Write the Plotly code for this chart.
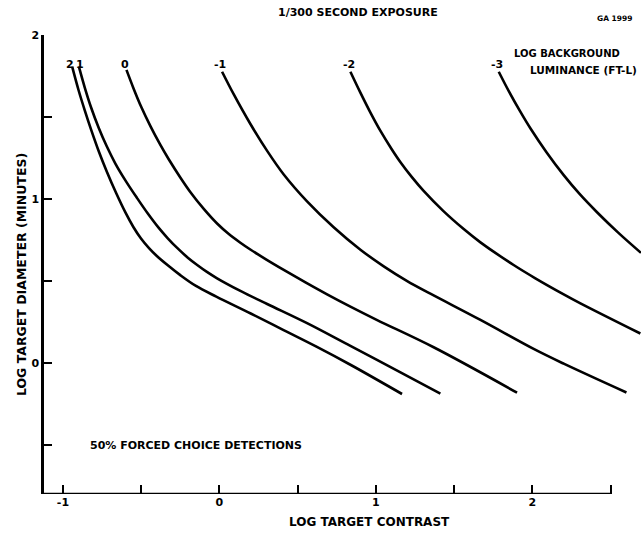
import plotly.graph_objects as go

# Curve labels (log background luminance, ft-L)
curve_labels = ["2", "1", "0", "-1", "-2", "-3"]
label_x = [-0.958, -0.893, -0.601, 0.006, 0.831, 1.774]
label_y = 1.823

# Curves: log target contrast (x) vs log target diameter (y)
c2_x = [-0.941, -0.900, -0.860, -0.820, -0.770, -0.720, -0.660, -0.600, -0.550, -0.500, -0.450, -0.400, -0.330, -0.250, -0.150, -0.020, 0.200, 0.410, 0.620, 0.840, 1.167]
c2_y = [1.807, 1.663, 1.539, 1.423, 1.288, 1.168, 1.036, 0.916, 0.829, 0.757, 0.700, 0.652, 0.595, 0.535, 0.469, 0.404, 0.301, 0.200, 0.099, -0.013, -0.190]

c1_x = [-0.898, -0.860, -0.820, -0.771, -0.720, -0.665, -0.600, -0.526, -0.460, -0.385, -0.330, -0.270, -0.200, -0.142, -0.080, -0.015, 0.134, 0.305, 0.560, 0.837, 1.130, 1.412]
c1_y = [1.807, 1.678, 1.558, 1.433, 1.321, 1.216, 1.112, 1.005, 0.914, 0.820, 0.760, 0.701, 0.640, 0.597, 0.555, 0.516, 0.439, 0.359, 0.242, 0.103, -0.044, -0.188]

c0_x = [-0.594, -0.550, -0.500, -0.441, -0.380, -0.324, -0.250, -0.185, -0.100, -0.015, 0.060, 0.134, 0.200, 0.300, 0.411, 0.550, 0.688, 0.837, 1.008, 1.369, 1.902]
c0_y = [1.787, 1.677, 1.562, 1.444, 1.334, 1.242, 1.131, 1.041, 0.939, 0.850, 0.786, 0.733, 0.690, 0.630, 0.567, 0.491, 0.418, 0.343, 0.261, 0.095, -0.182]

cm1_x = [0.017, 0.091, 0.198, 0.305, 0.411, 0.560, 0.730, 0.901, 1.050, 1.200, 1.348, 1.668, 2.008, 2.200, 2.601]
cm1_y = [1.776, 1.639, 1.457, 1.293, 1.149, 0.985, 0.827, 0.690, 0.589, 0.499, 0.422, 0.262, 0.085, -0.005, -0.181]

cm2_x = [0.837, 0.900, 0.960, 1.029, 1.100, 1.157, 1.230, 1.305, 1.430, 1.561, 1.668, 1.880, 2.019, 2.200, 2.307, 2.690]
cm2_y = [1.776, 1.650, 1.536, 1.415, 1.305, 1.224, 1.133, 1.049, 0.927, 0.816, 0.735, 0.597, 0.516, 0.418, 0.363, 0.179]

cm3_x = [1.785, 1.850, 1.920, 1.987, 2.090, 2.200, 2.300, 2.413, 2.550, 2.694]
cm3_y = [1.776, 1.656, 1.537, 1.431, 1.285, 1.145, 1.032, 0.919, 0.793, 0.671]

x_tickvals = [-1, -0.5, 0, 0.5, 1, 1.5, 2, 2.5]
x_ticktext = ["<b>-1</b>", "", "<b>0</b>", "", "<b>1</b>", "", "<b>2</b>", ""]
y_tickvals = [-0.5, 0, 0.5, 1, 1.5, 2]
y_ticktext = ["", "<b>0</b>", "", "<b>1</b>", "", "<b>2</b>"]

FONT = "DejaVu Sans, Liberation Sans, sans-serif"

fig = go.Figure()
for xs, ys in [(c2_x, c2_y), (c1_x, c1_y), (c0_x, c0_y),
               (cm1_x, cm1_y), (cm2_x, cm2_y), (cm3_x, cm3_y)]:
    fig.add_trace(go.Scatter(x=xs, y=ys, mode="lines",
                             line=dict(color="black", width=2.6, shape="spline", smoothing=1.0),
                             showlegend=False, hoverinfo="skip"))


def ann(x, y, text, size, xref="paper", yref="paper", xanchor="center", angle=0):
    return dict(x=x, y=y, xref=xref, yref=yref, text="<b>%s</b>" % text, showarrow=False,
                xanchor=xanchor, yanchor="middle", textangle=angle,
                font=dict(family=FONT, size=size, color="black"))


anns = [ann(lx, label_y, t, 11, "x", "y") for t, lx in zip(curve_labels, label_x)]
anns += [
    ann(0.526, 1.048, "1/300 SECOND EXPOSURE", 11),
    ann(0.955, 1.037, "GA 1999", 7.5),
    ann(0.546, -0.061, "LOG TARGET CONTRAST", 12),
    ann(-0.0385, 0.477, "LOG TARGET DIAMETER (MINUTES)", 12.5, angle=-90),
    ann(-0.837, -0.506, "50% FORCED CHOICE DETECTIONS", 11, "x", "y", "left"),
    ann(1.870, 1.890, "LOG BACKGROUND", 10, "x", "y", "left"),
    ann(1.974, 1.787, "LUMINANCE (FT-L)", 10.5, "x", "y", "left"),
]

fig.update_layout(
    width=641, height=536,
    margin=dict(l=44, r=0, t=35, b=42),
    paper_bgcolor="white", plot_bgcolor="white",
    annotations=anns,
    shapes=[dict(type="line", xref="x", yref="y", x0=-1.121, x1=2.5, y0=-0.8, y1=-0.8,
                 line=dict(color="black", width=2.5))],
    xaxis=dict(range=[-1.121, 2.694], showgrid=False, zeroline=False, showline=False,
               tickvals=x_tickvals, ticktext=x_ticktext, ticks="inside", ticklen=9,
               tickwidth=2, tickcolor="black",
               tickfont=dict(family=FONT, size=11, color="black")),
    yaxis=dict(range=[-0.8, 2.0], showgrid=False, zeroline=False, showline=True,
               linecolor="black", linewidth=2.5,
               tickvals=y_tickvals, ticktext=y_ticktext, ticks="inside", ticklen=8,
               tickwidth=2, tickcolor="black",
               tickfont=dict(family=FONT, size=11, color="black")),
)

fig.write_html("out.html", config={"displayModeBar": False},
               post_script="document.body.style.margin='0px';document.body.style.overflow='hidden';")
